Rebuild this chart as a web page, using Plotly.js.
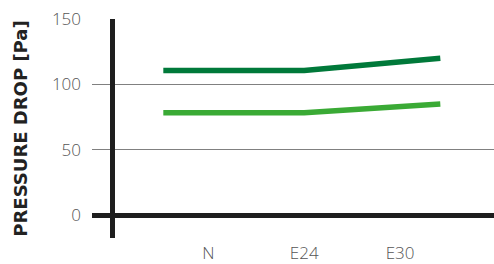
<!DOCTYPE html>
<html><head><meta charset="utf-8">
<script src="https://cdn.plot.ly/plotly-3.0.1.min.js"></script>
<style>html,body{margin:0;padding:0;background:#fff}#chart{width:494px;height:264px}</style>
</head><body><div id="chart"></div>
<script>
const categories = ['N', 'E24', 'E30'];
const categoryPos = [1, 2, 3];
const seriesX = [0.53, 2, 3.42];
const darkValues = [110.5, 110.5, 120];
const lightValues = [78.3, 78.3, 85];
const yTicks = [0, 50, 100, 150];

const traces = [
  {x: seriesX, y: lightValues, mode: 'lines', line: {color: '#3aaa35', width: 5.5}, hoverinfo: 'skip'},
  {x: seriesX, y: darkValues, mode: 'lines', line: {color: '#00793a', width: 5.5}, hoverinfo: 'skip'}
];
const tickFont = {family: '"Open Sans", Lato, sans-serif', size: 17, color: '#555', weight: 300};
const layout = {
  width: 494, height: 264,
  margin: {l: 92, r: 0, t: 19, b: 26, pad: 0},
  showlegend: false,
  paper_bgcolor: '#fff', plot_bgcolor: '#fff',
  font: tickFont,
  xaxis: {
    range: [-0.214, 3.98], tickvals: categoryPos, ticktext: categories,
    showgrid: false, zeroline: true, zerolinecolor: '#1e1e1e', zerolinewidth: 5,
    showline: false, ticks: '', ticklabelstandoff: 3,
    tickfont: tickFont
  },
  yaxis: {
    range: [-17.6, 150], tickvals: yTicks, ticktext: yTicks.map(String),
    showgrid: true, gridcolor: '#808080', gridwidth: 1,
    zeroline: true, zerolinecolor: '#1e1e1e', zerolinewidth: 5,
    showline: false, ticks: '', ticklabelstandoff: 10,
    tickfont: tickFont,
    title: {text: 'PRESSURE DROP [Pa]', standoff: 19,
      font: {family: '"DejaVu Sans", sans-serif', size: 18, color: '#222', weight: 700}}
  }
};
Plotly.newPlot('chart', traces, layout, {staticPlot: true, displayModeBar: false});
</script></body></html>
